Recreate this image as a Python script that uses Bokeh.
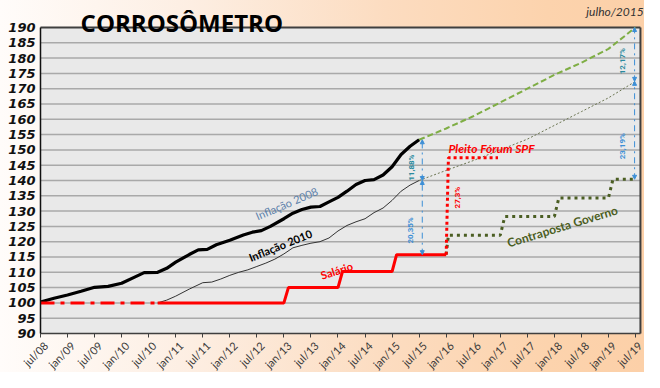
import math
from bokeh.plotting import figure
from bokeh.models import (Range1d, FixedTicker, Label, Arrow, NormalHead)
from bokeh.embed import file_html
from bokeh.resources import INLINE

# ---------------- data (month index: 0 = jul/08) ----------------
title_text = "CORROSÔMETRO"
date_text = "julho/2015"

x_tick_months = list(range(0, 133, 6))
x_tick_labels = ["jul/08", "jan/09", "jul/09", "jan/10", "jul/10", "jan/11", "jul/11",
                 "jan/12", "jul/12", "jan/13", "jul/13", "jan/14", "jul/14", "jan/15",
                 "jul/15", "jan/16", "jul/16", "jan/17", "jul/17", "jan/18", "jul/18",
                 "jan/19", "jul/19"]
y_ticks = list(range(90, 191, 5))

m_2008 = [0, 3, 6, 9, 12, 15, 18, 21, 23, 26, 28, 30, 33, 35, 37, 39, 42, 45, 47, 49,
          51, 54, 56, 58, 60, 62, 64, 66, 68, 70, 72, 74, 76, 78, 80, 82, 84]
infl_2008 = [100.3, 101.5, 102.6, 103.8, 105.1, 105.4, 106.4, 108.5, 109.9, 110.0,
             111.3, 113.3, 115.8, 117.3, 117.5, 119.0, 120.5, 122.2, 123.1, 123.6,
             125.0, 127.5, 129.3, 130.5, 131.3, 131.5, 133.0, 134.5, 136.5, 138.7,
             140.0, 140.3, 141.8, 144.5, 148.5, 151.2, 153.3]

m_2010 = [26, 28, 30, 33, 36, 38, 40, 42, 44, 46, 48, 50, 52, 54, 56, 58, 60, 62, 64,
          66, 68, 70, 72, 74, 76, 78, 80, 82, 84]
infl_2010 = [100.0, 100.9, 102.2, 104.5, 106.6, 106.8, 107.8, 109.0, 110.0, 110.8,
             111.9, 113.0, 114.3, 116.0, 118.0, 118.8, 119.5, 120.0, 121.2, 123.5,
             125.3, 126.5, 127.5, 129.5, 131.0, 133.5, 136.5, 138.5, 140.0]

m_proj = [84, 90, 96, 102, 108, 114, 120, 126, 132]
proj_2008 = [153.3, 157.0, 161.0, 165.5, 170.0, 174.5, 178.5, 183.0, 190.0]
proj_2010 = [140.0, 143.3, 146.5, 150.0, 153.5, 158.0, 162.5, 167.0, 172.4]

m_sal_old = [0, 26]
sal_old = [100.0, 100.0]
m_sal = [26, 54, 55, 66, 67, 78, 79, 90]
salario = [100.0, 100.0, 105.0, 105.0, 110.25, 110.25, 115.76, 115.76]

m_pleito = [90, 90.5, 101.5]
pleito = [115.76, 147.4, 147.4]

m_gov = [90, 90.5, 102, 103, 114, 115, 126, 127, 132]
governo = [115.76, 122.1, 122.1, 128.2, 128.2, 134.3, 134.3, 140.4, 140.4]

gap_labels = ["20,35%", "11,88%", "23,19%", "12,17%"]
gap_months = [84.7, 84.7, 131.8, 131.8]
gap_low = [115.76, 140.0, 140.4, 172.4]
gap_high = [140.0, 153.3, 172.4, 190.0]
gap_colors = ["#3d8fd6", "#2a8a9e", "#3d8fd6", "#2a8a9e"]

# plot-area extent (data units); the frame covers the whole canvas so that the
# title, the date and all axis labels sit inside it around the plot area
X_MIN, X_END = 0, 133.1
Y_MIN, Y_MAX = 90, 190

GRAD = "linear-gradient(90deg, #fffcfa 0%, #fdeee2 30%, #fcdcc0 60%, #fcd3ad 85%, #fcd0a8 100%)"

# ---------------- figure ----------------
p = figure(width=644, height=372, output_backend="svg", toolbar_location=None,
           x_range=Range1d(-8.873, 134.0), y_range=Range1d(77.25, 198.82),
           min_border_left=0, min_border_right=0, min_border_top=0,
           min_border_bottom=0)
p.border_fill_color = None
p.background_fill_color = None
p.styles = {"background": GRAD}
p.outline_line_color = None
p.grid.visible = False

# plot area fill, grid lines, top/right border
p.quad(left=[X_MIN], right=[X_END], bottom=[Y_MIN], top=[Y_MAX],
       fill_color="#e9e9e9", line_color=None)
inner = [t for t in y_ticks if Y_MIN < t < Y_MAX]
p.segment(x0=[X_MIN] * len(inner), x1=[X_END] * len(inner), y0=inner, y1=inner,
          line_color="#a9a9a9", line_width=1.5)
p.segment(x0=[X_MIN, X_END], x1=[X_END, X_END], y0=[Y_MAX, Y_MIN], y1=[Y_MAX, Y_MAX],
          line_color="#3f3f3f", line_width=2)

# y axis fixed at month 0
p.yaxis.fixed_location = X_MIN
p.yaxis.ticker = FixedTicker(ticks=y_ticks)
p.yaxis.bounds = (Y_MIN, Y_MAX)
p.yaxis.major_label_text_font = "DejaVu Sans"
p.yaxis.major_label_text_font_style = "bold italic"
p.yaxis.major_label_text_font_size = "13px"
p.yaxis.major_label_text_color = "#111111"
p.yaxis.axis_line_color = "#111111"
p.yaxis.axis_line_width = 1.5
p.yaxis.major_tick_out = 0
p.yaxis.major_tick_in = 0
p.yaxis.minor_tick_out = 0
p.yaxis.minor_tick_in = 0
p.yaxis.major_label_standoff = 5

# x axis fixed at y = 90: tick marks (as minor ticks) at the months, rotated
# labels anchored a little to the right of each tick, as Excel places them
LABEL_SHIFT = 1.2
lab_pos = [m + LABEL_SHIFT for m in x_tick_months]
p.xaxis.fixed_location = Y_MIN
p.xaxis.ticker = FixedTicker(ticks=lab_pos, minor_ticks=x_tick_months)
p.xaxis.major_label_overrides = {pos: l for pos, l in zip(lab_pos, x_tick_labels)}
p.xaxis.bounds = (X_MIN, X_END)
p.xaxis.major_label_orientation = math.pi / 4
p.xaxis.major_label_text_font = "Lato"
p.xaxis.major_label_text_font_size = "11px"
p.xaxis.major_label_text_color = "#3a3a3a"
p.xaxis.major_label_standoff = 6
p.xaxis.axis_line_color = "#3f3f3f"
p.xaxis.axis_line_width = 1.5
p.xaxis.major_tick_out = 0
p.xaxis.major_tick_in = 0
p.xaxis.minor_tick_out = 4
p.xaxis.minor_tick_in = 0
p.xaxis.minor_tick_line_color = "#3f3f3f"
p.xaxis.minor_tick_line_width = 1

# ---------------- series ----------------
p.line(m_proj, proj_2008, line_color="#7fae45", line_width=2, line_dash="6 3")
p.line(m_proj, proj_2010, line_color="#6b7552", line_width=1, line_dash="2 2")
p.line(m_2010, infl_2010, line_color="#333333", line_width=1)
p.line(m_2008, infl_2008, line_color="#000000", line_width=3.2)
p.line(m_gov, governo, line_color="#4b5e23", line_width=3, line_dash="3 4")
p.line(m_pleito, pleito, line_color="#ff0000", line_width=3, line_dash="3 3")
p.line(m_sal_old, sal_old, line_color="#ff0000", line_width=3, line_dash="14 6 4 6")
p.line(m_sal, salario, line_color="#ff0000", line_width=3)

# ---------------- gap arrows ----------------
for gm, lo, hi in zip(gap_months, gap_low, gap_high):
    p.add_layout(Arrow(x_start=gm, y_start=lo, x_end=gm, y_end=hi,
                       line_color="#3d8fd6", line_width=1, line_dash="dashdot",
                       start=NormalHead(size=4, fill_color="#3d8fd6", line_color="#3d8fd6"),
                       end=NormalHead(size=4, fill_color="#3d8fd6", line_color="#3d8fd6")))

def lab(x, y, text, color, size, angle=0.0, style="bold", font="Lato",
        align="center", baseline="middle"):
    p.add_layout(Label(x=x, y=y, text=text, text_color=color, text_font=font,
                       text_font_size=size, text_font_style=style,
                       angle=angle, angle_units="deg", text_align=align,
                       text_baseline=baseline))

# gap percentages
lab(82.1, 123.7, gap_labels[0], gap_colors[0], "8px", 90, "bold", "Roboto")
lab(82.3, 144.2, gap_labels[1], gap_colors[1], "8px", 90, "bold", "Roboto")
lab(129.1, 151.2, gap_labels[2], gap_colors[2], "8px", 90, "bold", "Roboto")
lab(129.1, 179.0, gap_labels[3], gap_colors[3], "8px", 90, "bold", "Roboto")
lab(92.5, 134.4, "27,3%", "#ff0000", "8px", 90, "bold", "Roboto")

# series labels
lab(54.6, 132.5, "Inflação 2008", "#5b80aa", "11px", 23, "normal")
lab(53.2, 118.8, "Inflação 2010", "#000000", "11px", 22, "bold")
lab(65.7, 110.6, "Salário", "#ff0000", "11px", 18, "bold")
lab(90.5, 150.5, "Pleito Fórum SPF", "#ff0000", "12px", 0, "bold italic", align="left")
lab(115.8, 125.0, "Contraposta Governo", "#4b5e23", "12px", 17, "bold")

# title and date above the plot area
lab(8.9, 191.6, title_text, "#000000", "24px", 0, "bold", "Open Sans",
    align="left", baseline="alphabetic")
lab(133.8, 195.2, date_text, "#333333", "12px", 0, "italic", "Lato",
    align="right", baseline="alphabetic")

open("out.html", "w").write(file_html(p, INLINE))
